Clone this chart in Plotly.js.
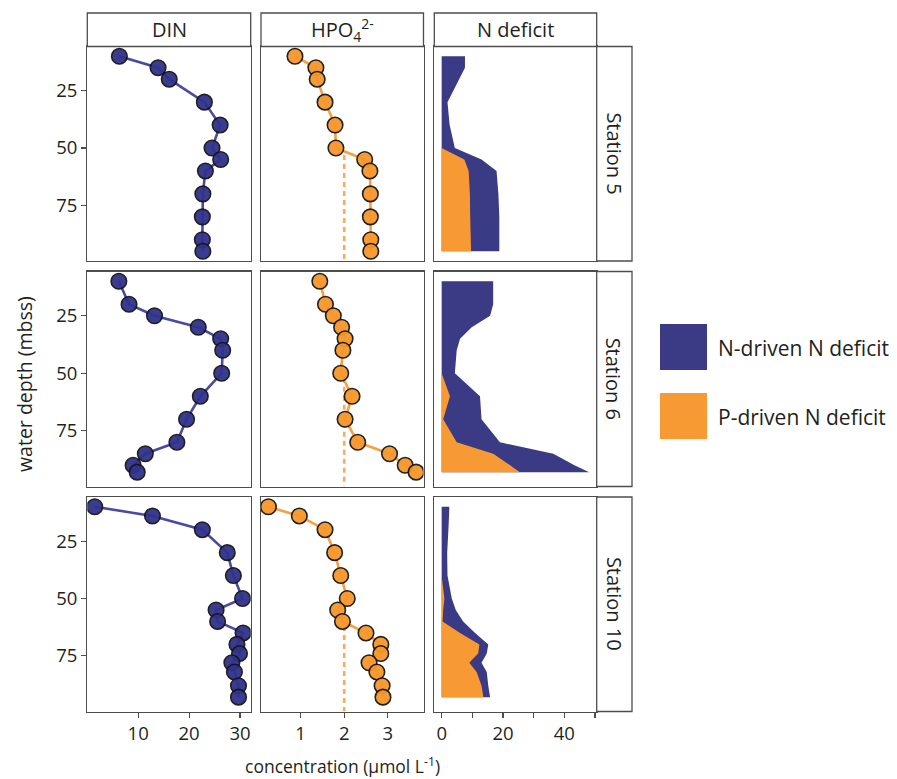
<!DOCTYPE html>
<html>
<head>
<meta charset="utf-8">
<script src="https://cdn.plot.ly/plotly-3.0.1.min.js"></script>
<style>html,body{margin:0;padding:0;background:#fff;}#chart{width:897px;height:779px;}</style>
</head>
<body>
<div id="chart"></div>
<script>
// ---------- data ----------
const stations = ["Station 5", "Station 6", "Station 10"];
const columns = ["DIN", "HPO<sub>4</sub><sup>2-</sup>", "N deficit"];

const depth5 = [10, 15, 20, 30, 40, 50, 55, 60, 70, 80, 90, 95];
const din5 = [6.3, 13.9, 16.1, 23.0, 26.1, 24.5, 26.2, 23.2, 22.7, 22.6, 22.6, 22.7];
const hpo5 = [0.87, 1.35, 1.38, 1.56, 1.79, 1.81, 2.47, 2.59, 2.60, 2.60, 2.61, 2.61];
const nDrv5 = [7.6, 7.6, 5.7, 1.9, 2.6, 4.3, 5.6, 9.1, 9.3, 9.5, 9.3, 9.2];
const pDrv5 = [0, 0, 0, 0, 0, 0, 7.4, 8.8, 9.2, 9.3, 9.5, 9.6];

const depth6 = [10, 20, 25, 30, 35, 40, 50, 60, 70, 80, 85, 90, 93];
const din6 = [6.2, 8.2, 13.2, 21.8, 26.2, 26.6, 26.4, 22.2, 19.5, 17.6, 11.4, 9.0, 9.8];
const hpo6 = [1.44, 1.57, 1.75, 1.94, 2.02, 1.97, 1.92, 2.18, 2.02, 2.31, 3.04, 3.40, 3.65];
const nDrv6 = [16.8, 16.8, 15.8, 9.8, 6.0, 4.9, 4.3, 9.8, 12.5, 14.1, 19.6, 21.0, 22.6];
const pDrv6 = [0, 0, 0, 0, 0, 0, 0, 2.7, 0.5, 4.9, 16.8, 22.3, 25.5];

const depth10 = [10, 14, 20, 30, 40, 50, 55, 60, 65, 70, 74, 78, 82, 88, 93];
const din10 = [1.46, 12.8, 22.6, 27.5, 28.7, 30.5, 25.3, 25.6, 30.6, 29.4, 29.9, 28.4, 28.9, 29.7, 29.7];
const hpo10 = [0.26, 0.97, 1.56, 1.78, 1.92, 2.07, 1.85, 1.96, 2.50, 2.84, 2.84, 2.57, 2.75, 2.87, 2.89];
const nDrv10 = [2.5, 2.4, 2.2, 1.8, 1.9, 2.4, 4.1, 6.7, 4.9, 2.9, 2.8, 4.0, 3.3, 2.2, 2.2];
const pDrv10 = [0, 0, 0, 0, 0, 0.9, 0.5, 0.3, 6.0, 12.3, 11.9, 9.0, 11.4, 13.0, 13.6];

// HPO4 reference (dashed) line: value and starting depth per station
const pRef = 2;
const dashStart = [53, 52, 62];

// tick labels
const dinTicks = [10, 20, 30];
const hpoTicks = [1, 2, 3];
const defTicks = [0, 20, 40];
const depthTicks = [25, 50, 75];

const depths = [depth5, depth6, depth10];
const dinData = [din5, din6, din10];
const hpoData = [hpo5, hpo6, hpo10];
const nDrvData = [nDrv5, nDrv6, nDrv10];
const pDrvData = [pDrv5, pDrv6, pDrv10];

const legendLabels = ["N-driven N deficit", "P-driven N deficit"];

// ---------- style ----------
const FONT = "Open Sans, Noto Sans, sans-serif";
const TXT = "#231f20";
const BLUE_PT = "#30328b";
const BLUE_LN = "#4b4aa3";
const BLUE_AREA = "#3a3a85";
const ORANGE_PT = "#f7972b";
const ORANGE_LN = "#f7a040";
const ORANGE_AREA = "#f89a33";
const FRAME = "#4d4d4d";

const W = 897, H = 779;
const colPx = [[87.3, 250.7], [261, 423.5], [434.3, 596.7]];
const rowPx = [[46.5, 261], [271.5, 486.5], [497, 711.5]];
const stripTop = 13;
const stripRight = 632;
const yRange = [99.25, 5.75];
const xRanges = [[0, 32.1], [0.09, 3.82], [-2.4, 50.55]];
const tickSets = [dinTicks, hpoTicks, defTicks];

const px2x = p => p / W;
const px2y = p => 1 - p / H;

const traces = [];
const layout = {
  width: W, height: H,
  margin: {l: 0, r: 0, t: 0, b: 0},
  paper_bgcolor: "#fff", plot_bgcolor: "#fff",
  showlegend: false,
  font: {family: FONT, color: TXT, size: 18},
  shapes: [], annotations: []
};

for (let r = 0; r < 3; r++) {
  for (let c = 0; c < 3; c++) {
    const idx = r * 3 + c + 1;
    const xa = "xaxis" + (idx === 1 ? "" : idx);
    const ya = "yaxis" + (idx === 1 ? "" : idx);
    const xr = "x" + (idx === 1 ? "" : idx);
    const yr = "y" + (idx === 1 ? "" : idx);
    const bottom = r === 2;
    const xaxis = {
      domain: [px2x(colPx[c][0]), px2x(colPx[c][1])],
      anchor: yr, range: xRanges[c],
      showgrid: false, zeroline: false,
      showline: true, mirror: true, linecolor: FRAME, linewidth: 1.3,
      showticklabels: bottom,
      tickfont: {family: FONT, size: 18.5, color: TXT}
    };
    if (bottom) {
      xaxis.tickmode = "array";
      xaxis.tickvals = tickSets[c];
      xaxis.ticks = "outside"; xaxis.ticklen = 5; xaxis.tickcolor = FRAME; xaxis.tickwidth = 1.2;
      if (c === 2) {
        xaxis.minor = {dtick: 10, tick0: 0, ticks: "outside", ticklen: 5, tickcolor: FRAME, tickwidth: 1.2, showgrid: false};
      }
    } else {
      xaxis.ticks = "";
    }
    const yaxis = {
      domain: [px2y(rowPx[r][1]), px2y(rowPx[r][0])],
      anchor: xr, range: yRange,
      showgrid: false, zeroline: false,
      showline: true, mirror: true, linecolor: FRAME, linewidth: 1.3,
      showticklabels: c === 0,
      tickfont: {family: FONT, size: 18.5, color: TXT}
    };
    if (c === 0) {
      yaxis.tickmode = "array"; yaxis.tickvals = depthTicks;
      yaxis.ticks = "outside"; yaxis.ticklen = 5; yaxis.tickcolor = FRAME; yaxis.tickwidth = 1.2;
    } else {
      yaxis.ticks = "";
    }
    layout[xa] = xaxis;
    layout[ya] = yaxis;

    const d = depths[r];
    if (c === 0) {
      traces.push({x: dinData[r], y: d, xaxis: xr, yaxis: yr, type: "scatter", mode: "lines",
        line: {color: BLUE_LN, width: 2.6}, hoverinfo: "skip"});
      traces.push({x: dinData[r], y: d, xaxis: xr, yaxis: yr, type: "scatter", mode: "markers",
        marker: {size: 15.5, color: BLUE_PT, opacity: 0.95, line: {color: "#151515", width: 1.6}}});
    } else if (c === 1) {
      traces.push({x: [pRef, pRef], y: [dashStart[r], yRange[0]], xaxis: xr, yaxis: yr, type: "scatter", mode: "lines",
        line: {color: "#f9ab58", width: 2.6, dash: "5px,4px"}, hoverinfo: "skip"});
      traces.push({x: hpoData[r], y: d, xaxis: xr, yaxis: yr, type: "scatter", mode: "lines",
        line: {color: ORANGE_LN, width: 2.6}, hoverinfo: "skip"});
      traces.push({x: hpoData[r], y: d, xaxis: xr, yaxis: yr, type: "scatter", mode: "markers",
        marker: {size: 15.5, color: ORANGE_PT, opacity: 0.95, line: {color: "#151515", width: 1.6}}});
    } else {
      const total = nDrvData[r].map((v, k) => v + pDrvData[r][k]);
      traces.push({x: total, y: d, xaxis: xr, yaxis: yr, type: "scatter", mode: "none",
        fill: "tozerox", fillcolor: BLUE_AREA, hoverinfo: "skip"});
      traces.push({x: pDrvData[r], y: d, xaxis: xr, yaxis: yr, type: "scatter", mode: "none",
        fill: "tozerox", fillcolor: ORANGE_AREA, hoverinfo: "skip"});
    }
  }
}

// top strips
for (let c = 0; c < 3; c++) {
  layout.shapes.push({type: "rect", xref: "paper", yref: "paper",
    x0: px2x(colPx[c][0]), x1: px2x(colPx[c][1]), y0: px2y(rowPx[0][0]), y1: px2y(stripTop),
    line: {color: FRAME, width: 1.3}, fillcolor: "#fff"});
  layout.annotations.push({xref: "paper", yref: "paper",
    x: px2x((colPx[c][0] + colPx[c][1]) / 2), y: px2y((stripTop + rowPx[0][0]) / 2),
    text: columns[c], showarrow: false, xanchor: "center", yanchor: "middle",
    font: {family: FONT, size: 20, color: TXT}});
}
// right strips
for (let r = 0; r < 3; r++) {
  layout.shapes.push({type: "rect", xref: "paper", yref: "paper",
    x0: px2x(colPx[2][1]), x1: px2x(stripRight), y0: px2y(rowPx[r][1]), y1: px2y(rowPx[r][0]),
    line: {color: FRAME, width: 1.3}, fillcolor: "#fff"});
  layout.annotations.push({xref: "paper", yref: "paper",
    x: px2x((colPx[2][1] + stripRight) / 2), y: px2y((rowPx[r][0] + rowPx[r][1]) / 2),
    text: stations[r], showarrow: false, textangle: 90, xanchor: "center", yanchor: "middle",
    font: {family: FONT, size: 20, color: TXT}});
}
// axis titles
layout.annotations.push({xref: "paper", yref: "paper", x: px2x(24), y: px2y(384),
  text: "water depth (mbss)", showarrow: false, textangle: -90, xanchor: "center", yanchor: "middle",
  font: {family: FONT, size: 19.5, color: TXT}});
layout.annotations.push({xref: "paper", yref: "paper", x: px2x(342), y: px2y(765),
  text: "concentration (µmol L<sup>-1</sup>)", showarrow: false, xanchor: "center", yanchor: "middle",
  font: {family: FONT, size: 17.5, color: TXT}});

// legend
const legColors = [BLUE_AREA, ORANGE_AREA];
const legTop = [324, 393];
for (let k = 0; k < 2; k++) {
  layout.shapes.push({type: "rect", xref: "paper", yref: "paper",
    x0: px2x(660), x1: px2x(707), y0: px2y(legTop[k] + 46), y1: px2y(legTop[k]),
    line: {width: 0}, fillcolor: legColors[k]});
  layout.annotations.push({xref: "paper", yref: "paper", x: px2x(716), y: px2y(legTop[k] + 24),
    text: legendLabels[k], showarrow: false, xanchor: "left", yanchor: "middle",
    font: {family: FONT, size: 21, color: TXT}});
}

Plotly.newPlot("chart", traces, layout, {staticPlot: true, displayModeBar: false});
</script>
</body>
</html>
